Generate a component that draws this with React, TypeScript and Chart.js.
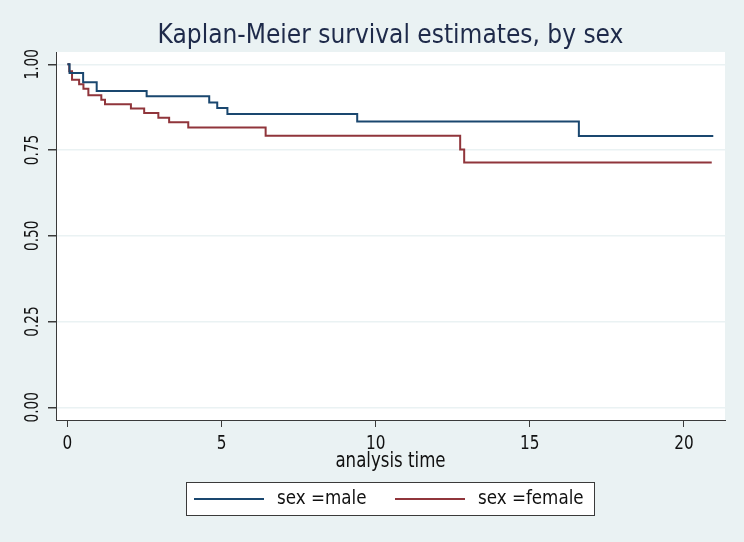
import React, { useEffect, useRef } from "react";
import { Chart, registerables } from "chart.js";

Chart.register(...registerables);

const chartTitle = "Kaplan-Meier survival estimates, by sex";
const xAxisTitle = "analysis time";
const seriesLabels = ["sex =male", "sex =female"];

const maleTimes = [0, 0.07, 0.51, 0.95, 2.57, 4.6, 4.86, 5.19, 9.4, 16.59, 20.95];
const maleSurv = [1, 0.975, 0.948, 0.922, 0.907, 0.889, 0.873, 0.855, 0.833, 0.791, 0.791];

const femaleTimes = [0, 0.06, 0.15, 0.38, 0.52, 0.68, 1.1, 1.22, 2.06, 2.49, 2.95, 3.3, 3.92, 6.43, 12.74, 12.87, 20.9];
const femaleSurv = [1, 0.98, 0.955, 0.942, 0.929, 0.91, 0.897, 0.884, 0.871, 0.858, 0.844, 0.831, 0.816, 0.792, 0.752, 0.714, 0.714];

const xTickValues = [0, 5, 10, 15, 20];
const yTickValues = [0, 0.25, 0.5, 0.75, 1];

const BG = "#EAF2F3";
const BLUE = "#1A476F";
const RED = "#90353B";
const AXIS = "#3a3a3a";
const TEXT = "#111111";
const FONT = '"DejaVu Sans Condensed", "DejaVu Sans", sans-serif';

function drawText(
  ctx: CanvasRenderingContext2D,
  text: string,
  x: number,
  y: number,
  size: number,
  sx: number,
  color: string,
  align: CanvasTextAlign = "center",
  rotation = 0
) {
  ctx.save();
  ctx.translate(x, y);
  if (rotation) ctx.rotate(rotation);
  ctx.scale(sx, 1);
  ctx.font = `${size}px ${FONT}`;
  ctx.fillStyle = color;
  ctx.textAlign = align;
  ctx.textBaseline = "middle";
  ctx.fillText(text, 0, 0);
  ctx.restore();
}

const plotBgPlugin = {
  id: "plotBg",
  beforeDraw(chart: any) {
    const { ctx, chartArea } = chart;
    ctx.save();
    ctx.fillStyle = BG;
    ctx.fillRect(0, 0, chart.width, chart.height);
    ctx.fillStyle = "#FFFFFF";
    ctx.fillRect(chartArea.left, chartArea.top, chartArea.right - chartArea.left, chartArea.bottom - chartArea.top);
    ctx.restore();
  },
};

const textPlugin = {
  id: "textExtras",
  afterDraw(chart: any) {
    const { ctx, chartArea } = chart;
    const cx = (chartArea.left + chartArea.right) / 2;

    // title
    drawText(ctx, chartTitle, cx, 36, 26, 1, "#1E2A4A");

    // x tick labels and axis title
    const xs = chart.scales.x;
    xTickValues.forEach((v) => {
      drawText(ctx, String(v), xs.getPixelForValue(v), chartArea.bottom + 24, 20, 0.85, TEXT);
    });
    drawText(ctx, xAxisTitle, cx, chartArea.bottom + 42, 21, 0.88, TEXT);

    // rotated y tick labels
    const ys = chart.scales.y;
    yTickValues.forEach((v) => {
      drawText(ctx, v.toFixed(2), 33, ys.getPixelForValue(v), 19, 0.8, TEXT, "center", -Math.PI / 2);
    });

    // legend
    const lw = 409;
    const lh = 34;
    const lx = Math.round(cx - lw / 2);
    const ly = 482;
    ctx.save();
    ctx.fillStyle = "#FFFFFF";
    ctx.fillRect(lx, ly, lw, lh);
    ctx.strokeStyle = AXIS;
    ctx.lineWidth = 1;
    ctx.strokeRect(lx + 0.5, ly + 0.5, lw - 1, lh - 1);
    ctx.restore();
    const itemX = [lx + 8, lx + 209];
    chart.data.datasets.forEach((d: any, i: number) => {
      const x0 = itemX[i];
      ctx.save();
      ctx.strokeStyle = d.borderColor;
      ctx.lineWidth = 2;
      ctx.beginPath();
      ctx.moveTo(x0, ly + lh / 2);
      ctx.lineTo(x0 + 70, ly + lh / 2);
      ctx.stroke();
      ctx.restore();
      drawText(ctx, d.label, x0 + 83, ly + lh / 2, 20, 0.93, TEXT, "left");
    });
  },
};

export default function App() {
  const canvasRef = useRef<HTMLCanvasElement | null>(null);

  useEffect(() => {
    if (!canvasRef.current) return;
    const maleData = maleTimes.map((t, i) => ({ x: t, y: maleSurv[i] }));
    const femaleData = femaleTimes.map((t, i) => ({ x: t, y: femaleSurv[i] }));
    const chart = new Chart(canvasRef.current, {
      type: "line",
      data: {
        datasets: [
          {
            label: seriesLabels[0],
            data: maleData,
            borderColor: BLUE,
            backgroundColor: BLUE,
            borderWidth: 2,
            pointRadius: 0,
            stepped: true,
            fill: false,
          },
          {
            label: seriesLabels[1],
            data: femaleData,
            borderColor: RED,
            backgroundColor: RED,
            borderWidth: 2,
            pointRadius: 0,
            stepped: true,
            fill: false,
          },
        ],
      },
      options: {
        animation: false,
        responsive: true,
        maintainAspectRatio: false,
        layout: { padding: { top: 52, right: 19, bottom: 71, left: 0 } },
        plugins: {
          legend: { display: false },
          title: { display: false },
          tooltip: { enabled: false },
        },
        scales: {
          x: {
            type: "linear",
            min: -0.37,
            max: 21.33,
            afterBuildTicks: (scale: any) => {
              scale.ticks = xTickValues.map((v) => ({ value: v }));
            },
            afterFit: (scale: any) => {
              scale.height = 51;
            },
            ticks: { display: false },
            grid: {
              drawOnChartArea: false,
              drawTicks: true,
              tickLength: 7,
              tickColor: AXIS,
            },
            border: { display: true, color: AXIS, width: 1 },
          },
          y: {
            type: "linear",
            min: -0.037,
            max: 1.036,
            afterBuildTicks: (scale: any) => {
              scale.ticks = yTickValues.map((v) => ({ value: v }));
            },
            afterFit: (scale: any) => {
              scale.width = 56;
            },
            ticks: { display: false },
            grid: {
              color: BG,
              lineWidth: 1.5,
              drawTicks: true,
              tickLength: 8,
              tickColor: AXIS,
            },
            border: { display: true, color: AXIS, width: 1 },
          },
        },
      },
      plugins: [plotBgPlugin, textPlugin],
    });
    return () => chart.destroy();
  }, []);

  return (
    <div style={{ position: "fixed", left: 0, top: 0, width: 744, height: 542, background: BG }}>
      <canvas ref={canvasRef} />
    </div>
  );
}
